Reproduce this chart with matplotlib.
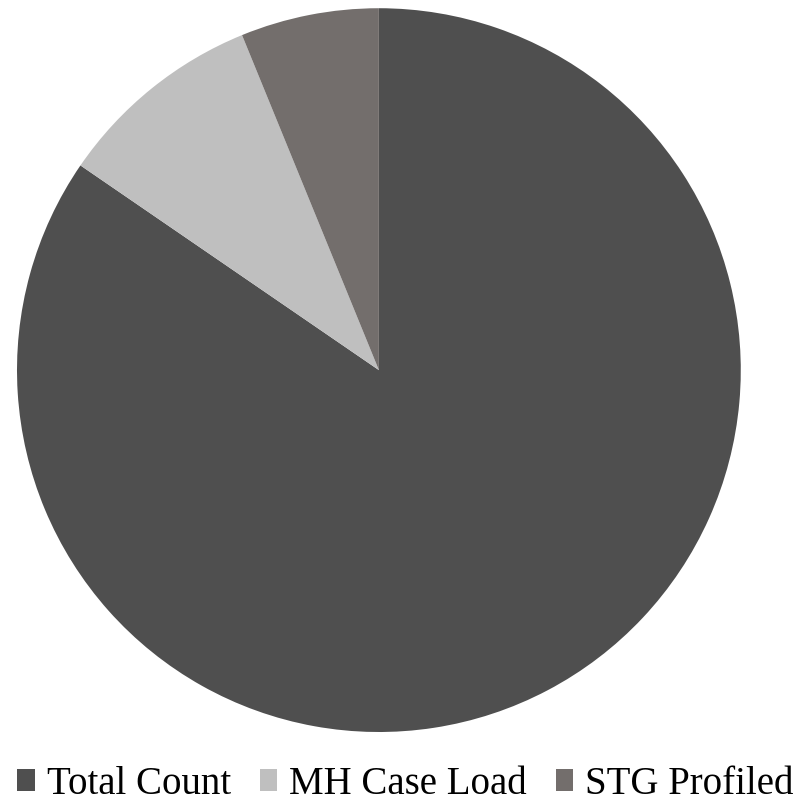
import matplotlib.pyplot as plt
from matplotlib.patches import Patch

labels = ["Total Count", "MH Case Load", "STG Profiled"]
values = [1370, 150, 100]
colors = ["#4f4f4f", "#bfbfbf", "#736e6c"]

fig = plt.figure(figsize=(7.98, 8.06), dpi=100)
ax = fig.add_axes([0.0213, 0.0918, 0.907, 0.898])
ax.pie(values, colors=colors, startangle=90, counterclock=False,
       radius=1, wedgeprops={"linewidth": 0})
ax.set_xlim(-1, 1)
ax.set_ylim(-1, 1)
ax.set_aspect("equal")
ax.axis("off")

handles = [Patch(facecolor=c, edgecolor="none") for c in colors]
fig.legend(handles, labels, loc="center", bbox_to_anchor=(0.508, 1 - 784 / 806),
           ncol=3, frameon=False, prop={"family": "Liberation Serif", "size": 28},
           handlelength=0.45, handleheight=0.5, handletextpad=0.3,
           columnspacing=0.75, borderpad=0, borderaxespad=0)

fig.savefig("out.png", dpi=100)
